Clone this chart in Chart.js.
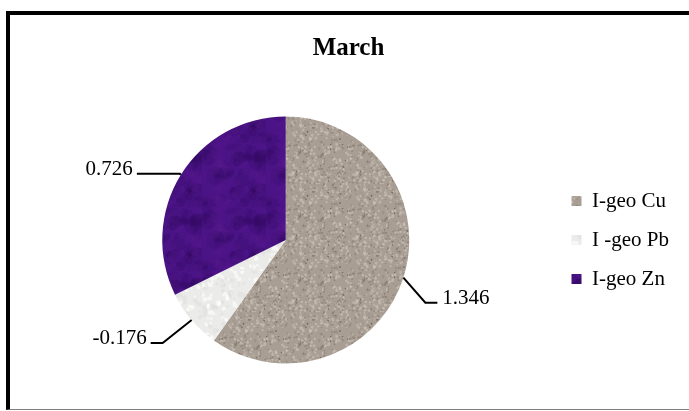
<!DOCTYPE html>
<html>
<head>
<meta charset="utf-8">
<script src="https://cdn.jsdelivr.net/npm/chart.js@4"></script>
<style>
  html, body { margin: 0; padding: 0; background: #fff; overflow: hidden; }
  #frame {
    position: absolute; left: 6px; top: 11px; width: 700px; height: 394px;
    border-top: 4px solid #000; border-left: 4px solid #000; border-bottom: 1px solid #808080;
  }
  #chart { position: absolute; left: 0; top: 0; }
</style>
</head>
<body>
<div id="frame"><canvas id="chart" width="679" height="394"></canvas></div>
<script>
const title = "March";
const categories = ["I-geo Cu", "I -geo Pb", "I-geo Zn"];
const igeoValues = [1.346, -0.176, 0.726];
const valueLabels = ["1.346", "-0.176", "0.726"];

// small seeded generator, only for the fill textures
const seeded = (seed) => () => {
  seed = (seed + 0x6D2B79F5) | 0;
  let t = Math.imul(seed ^ (seed >>> 15), 1 | seed);
  t = (t + Math.imul(t ^ (t >>> 7), 61 | t)) ^ t;
  return ((t ^ (t >>> 14)) >>> 0) / 4294967296;
};

const makeTexture = (base, spots, seed, size) => {
  const c = document.createElement("canvas");
  c.width = c.height = size;
  const g = c.getContext("2d");
  g.fillStyle = base;
  g.fillRect(0, 0, size, size);
  const rnd = seeded(seed);
  spots.forEach(s => {
    g.fillStyle = s.color;
    for (let i = 0; i < s.count; i++) {
      const x = rnd() * size, y = rnd() * size;
      const r = s.min + rnd() * (s.max - s.min);
      g.beginPath();
      g.ellipse(x, y, r, r * (0.6 + rnd() * 0.6), rnd() * Math.PI, 0, Math.PI * 2);
      g.fill();
    }
  });
  return g.createPattern(c, "repeat");
};

const ctx = document.getElementById("chart").getContext("2d");

const fills = [
  makeTexture("#a99e94", [
    { color: "rgba(205,196,186,0.6)", count: 240, min: 0.7, max: 1.6 },
    { color: "rgba(125,113,103,0.45)", count: 180, min: 0.6, max: 1.3 },
    { color: "rgba(70,60,52,0.55)", count: 45, min: 0.4, max: 0.9 }
  ], 7, 64),
  makeTexture("#ebebe9", [
    { color: "rgba(255,255,255,0.6)", count: 80, min: 1, max: 3 },
    { color: "rgba(215,215,212,0.35)", count: 60, min: 1, max: 3 }
  ], 11, 64),
  makeTexture("#4a1386", [
    { color: "rgba(40,6,80,0.15)", count: 50, min: 3, max: 9 },
    { color: "rgba(95,35,150,0.12)", count: 40, min: 3, max: 8 }
  ], 23, 64)
];

const leaderLines = {
  id: "leaderLines",
  afterDatasetsDraw(chart, args, opts) {
    const c = chart.ctx;
    const meta = chart.getDatasetMeta(0);
    meta.data.forEach((arc, i) => {
      const p = arc.getProps(["x", "y", "startAngle", "endAngle", "outerRadius"], true);
      const mid = (p.startAngle + p.endAngle) / 2;
      const ex = p.x + Math.cos(mid) * p.outerRadius;
      const ey = p.y + Math.sin(mid) * p.outerRadius;
      const [dx, dy, h] = opts.offsets[i];
      const kx = ex + dx, ky = ey + dy;
      c.save();
      c.strokeStyle = "#000";
      c.lineWidth = 2;
      c.beginPath();
      c.moveTo(ex, ey);
      c.lineTo(kx, ky);
      c.lineTo(kx + h, ky);
      c.stroke();
      c.fillStyle = "#000";
      c.font = opts.font;
      c.textBaseline = "alphabetic";
      c.textAlign = h > 0 ? "left" : "right";
      c.fillText(valueLabels[i], kx + h + (h > 0 ? 5 : -4), ky + 1);
      c.restore();
    });
  }
};

new Chart(ctx, {
  type: "pie",
  data: {
    labels: categories,
    datasets: [{
      data: igeoValues,
      backgroundColor: fills,
      borderWidth: 0
    }]
  },
  options: {
    responsive: false,
    animation: false,
    devicePixelRatio: 1,
    events: [],
    layout: { padding: { left: 8, right: 10, top: 0, bottom: 45.5 } },
    plugins: {
      title: {
        display: true,
        text: title,
        color: "#000",
        font: { family: "'Liberation Serif', 'Times New Roman', serif", size: 25, weight: "bold", lineHeight: 1.2 },
        padding: { top: 19, bottom: 52.5 }
      },
      legend: {
        position: "right",
        fullSize: false,
        labels: {
          color: "#000",
          boxWidth: 10,
          boxHeight: 10,
          padding: 18,
          font: { family: "'Liberation Serif', 'Times New Roman', serif", size: 21 }
        }
      },
      tooltip: { enabled: false },
      leaderLines: {
        font: "21px 'Liberation Serif', 'Times New Roman', serif",
        offsets: [[22, 25, 12], [-29, 23, -12], [-1, -1, -43]]
      }
    }
  },
  plugins: [leaderLines]
});
</script>
</body>
</html>
